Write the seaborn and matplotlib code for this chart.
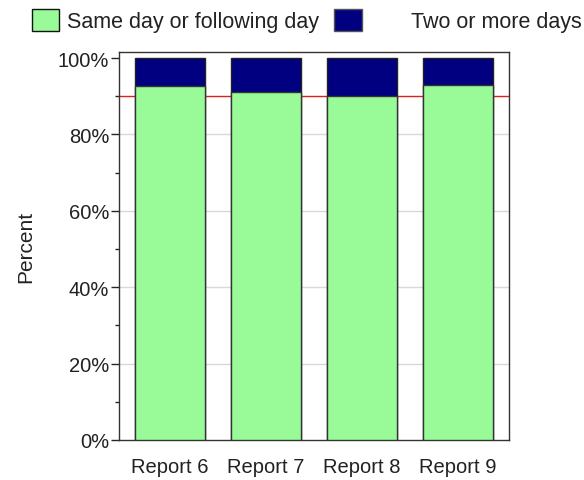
import matplotlib
matplotlib.use("Agg")
import matplotlib.pyplot as plt
import seaborn as sns
import pandas as pd
from matplotlib.patches import Patch
from matplotlib.ticker import MultipleLocator, PercentFormatter

# data
reports = ['Report 6', 'Report 7', 'Report 8', 'Report 9']
same_day = [92.7, 91.0, 90.0, 93.0]
two_or_more = [100 - v for v in same_day]
target = 90

df = pd.DataFrame({'report': reports, 'same': same_day, 'more': two_or_more})
df['total'] = df['same'] + df['more']

sns.set_style("white")
plt.rcParams['font.family'] = ['Liberation Sans', 'DejaVu Sans']
txt = '#222222'
green = '#98FB98'
navy = '#000080'

fig = plt.figure(figsize=(5.84, 4.81), dpi=100)
ax = fig.add_axes([0.2038, 0.0832, 0.6678, 0.8066])

# grid + target line behind the bars
for v in range(20, 100, 20):
    ax.axhline(v, color='#d9d9d9', lw=1, zorder=0)
ax.axhline(target, color='#e0201c', lw=1, zorder=0.5)

sns.barplot(data=df, x='report', y='total', color=navy, width=0.73,
            edgecolor='#222222', linewidth=1, saturation=1, ax=ax, zorder=2)
sns.barplot(data=df, x='report', y='same', color=green, width=0.73,
            edgecolor='#333333', linewidth=1, saturation=1, ax=ax, zorder=3)

ax.set_xlim(-0.53, 3.53)
ax.set_ylim(0, 101.6)
ax.yaxis.set_major_locator(MultipleLocator(20))
ax.yaxis.set_minor_locator(MultipleLocator(10))
ax.yaxis.set_major_formatter(PercentFormatter(decimals=0))
ax.tick_params(axis='y', which='major', left=True, length=6, width=1,
               labelsize=14.5, labelcolor=txt, pad=1)
ax.tick_params(axis='y', which='minor', left=True, length=3, width=1)
ax.tick_params(axis='x', bottom=False, labelsize=14.5, labelcolor=txt, pad=9)
ax.set_xlabel('')
ax.set_ylabel('Percent', fontsize=15, color=txt, labelpad=16)
for s in ax.spines.values():
    s.set_visible(True)
    s.set_color('#333333')
    s.set_linewidth(1)

# legend across the top
h1 = Patch(facecolor=green, edgecolor='#111111', lw=1)
h2 = Patch(facecolor=navy, edgecolor='#555555', lw=1)
fig.legend([h1], ['Same day or following day'], loc='upper left',
           bbox_to_anchor=(0.021, 1.020), frameon=False, fontsize=15.5,
           handlelength=1.25, handleheight=1.2, handletextpad=0.37,
           labelcolor=txt)
fig.legend([h2], ['Two or more days'], loc='upper left',
           bbox_to_anchor=(0.5395, 1.020), frameon=False, fontsize=15.5,
           handlelength=1.3, handleheight=1.2, handletextpad=2.25,
           labelcolor=txt)

fig.savefig('out.png', dpi=100)
